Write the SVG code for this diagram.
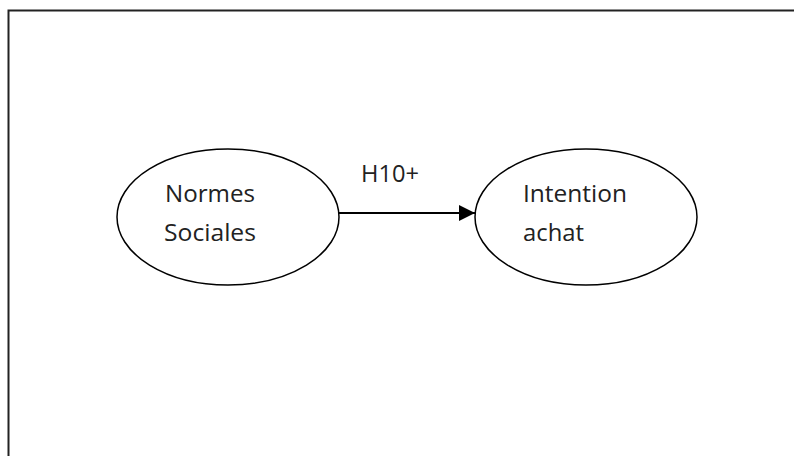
<svg xmlns="http://www.w3.org/2000/svg" width="794" height="456" viewBox="0 0 794 456">
<defs>
<style>
.frame{fill:none;stroke:#222;stroke-width:2}
.node{fill:#fff;stroke:#000;stroke-width:1.5}
.lbl{font-family:"Open Sans","Liberation Sans",Arial,sans-serif;font-size:24px;fill:#222}
.edge{stroke:#000;stroke-width:2;fill:none}
</style>
<marker id="arr" viewBox="0 0 16 16" refX="16" refY="8" markerWidth="16" markerHeight="16" markerUnits="userSpaceOnUse" orient="auto">
<path d="M0,0 L16,8 L0,16 Z" fill="#000"/>
</marker>
</defs>
<rect width="794" height="456" fill="#fff"/>
<path class="frame" d="M8.5,470 V10.5 H800"/>
<g id="connectors">
<line class="edge" x1="339" y1="213" x2="475" y2="213" marker-end="url(#arr)"/>
<text class="lbl" x="361" y="182" textLength="58" lengthAdjust="spacingAndGlyphs">H10+</text>
</g>
<g id="normes">
<ellipse class="node" cx="228" cy="217" rx="111" ry="68"/>
<text class="lbl" x="165" y="202" textLength="90" lengthAdjust="spacingAndGlyphs">Normes</text>
<text class="lbl" x="164" y="241" textLength="92" lengthAdjust="spacingAndGlyphs">Sociales</text>
</g>
<g id="intention">
<ellipse class="node" cx="586" cy="217" rx="111" ry="68"/>
<text class="lbl" x="523" y="202" textLength="104" lengthAdjust="spacingAndGlyphs">Intention</text>
<text class="lbl" x="523" y="241" textLength="61" lengthAdjust="spacingAndGlyphs">achat</text>
</g>
</svg>
